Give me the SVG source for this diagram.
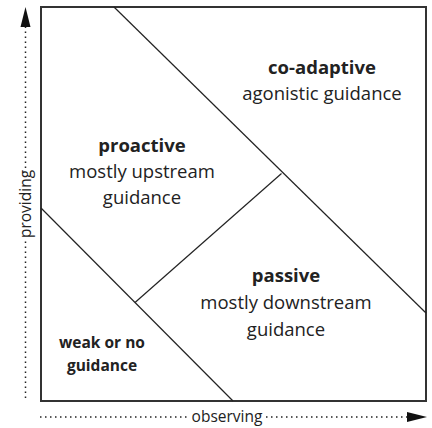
<svg xmlns="http://www.w3.org/2000/svg" width="432" height="428" viewBox="0 0 432 428">
<style>
text{font-family:"Open Sans","Noto Sans","Liberation Sans",sans-serif;fill:#222;text-anchor:middle}
.b{font-weight:bold;font-size:18.5px}
.r{font-size:18.5px}
.sb{font-weight:bold;font-size:15.5px}
.ax{font-size:15.5px}
.frame{fill:none;stroke:#333;stroke-width:2}
.div{fill:none;stroke:#222;stroke-width:1.2}
.dot{fill:none;stroke:#222;stroke-width:1.5;stroke-dasharray:1.5 3.5}
.head{fill:#111}
</style>
<rect class="frame" x="41" y="7" width="385" height="394"/>
<g id="connectors">
<line class="div" x1="114" y1="7" x2="426" y2="313"/>
<line class="div" x1="41" y1="208" x2="233" y2="401"/>
<line class="div" x1="135" y1="302.5" x2="281.5" y2="173.5"/>
</g>
<g id="co-adaptive">
<text class="b" x="322" y="74">co-adaptive</text>
<text class="r" x="322" y="100">agonistic guidance</text>
</g>
<g id="proactive">
<text class="b" x="142" y="152">proactive</text>
<text class="r" x="142" y="178">mostly upstream</text>
<text class="r" x="142" y="204">guidance</text>
</g>
<g id="passive">
<text class="b" x="286" y="282">passive</text>
<text class="r" x="286" y="309">mostly downstream</text>
<text class="r" x="286" y="336">guidance</text>
</g>
<g id="weak">
<text class="sb" x="102" y="348">weak or no</text>
<text class="sb" x="102" y="371">guidance</text>
</g>
<g id="x-axis">
<line class="dot" x1="40" y1="417" x2="188" y2="417"/>
<line class="dot" x1="266" y1="417" x2="407" y2="417"/>
<polygon class="head" points="407,412 427,417 407,422"/>
<text class="ax" x="227" y="422">observing</text>
</g>
<g id="y-axis">
<line class="dot" x1="25.5" y1="398" x2="25.5" y2="240"/>
<line class="dot" x1="25.5" y1="168" x2="25.5" y2="26"/>
<polygon class="head" points="20.5,27 25.5,7 30.5,27"/>
<text class="ax" transform="translate(30.5,204) rotate(-90)">providing</text>
</g>
</svg>
